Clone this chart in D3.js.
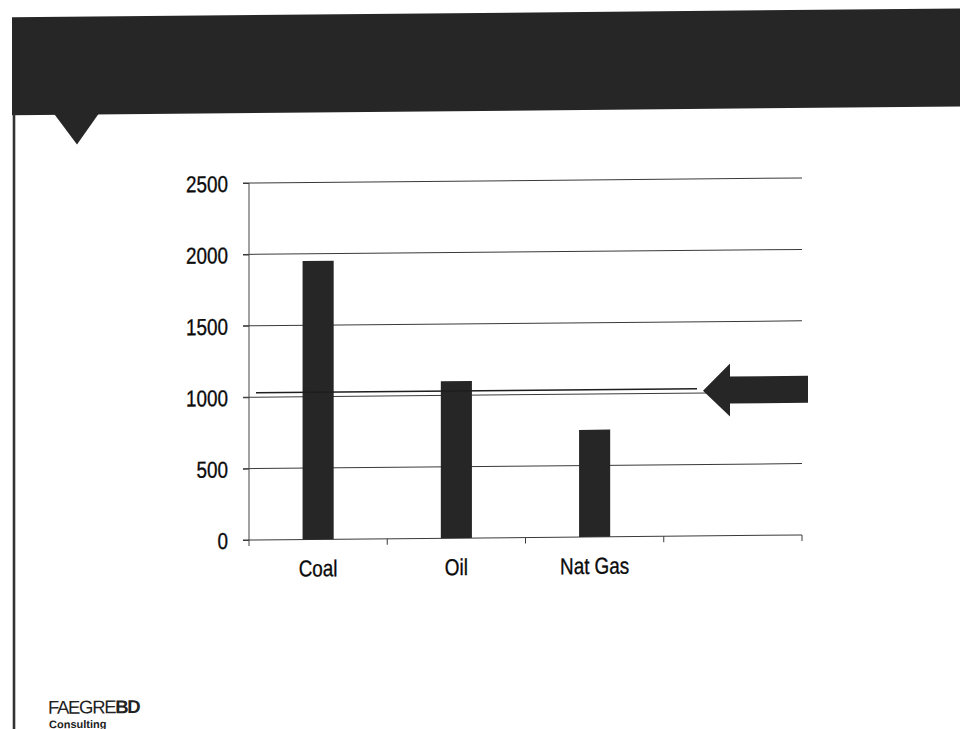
<!DOCTYPE html>
<html>
<head>
<meta charset="utf-8">
<script src="https://cdn.jsdelivr.net/npm/d3@7"></script>
<style>
  html, body { margin: 0; padding: 0; background: #fff; }
  svg { display: block; }
  .lbl { font-family: "Liberation Sans", Arial, sans-serif; font-size: 23px; fill: #0a0a0a; stroke: #0a0a0a; stroke-width: 0.35px; }
</style>
</head>
<body>
<svg id="chart" width="960" height="729"></svg>
<script>
// Chart data
const categories = ["Coal", "Oil", "Nat Gas", ""];
const values = [1950, 1100, 750, null];
const yTicks = [0, 500, 1000, 1500, 2000, 2500];
const refValue = 1030;

const W = 960, H = 729;
const svg = d3.select("#chart");

// Slide is set at a slight slant
const slant = -0.52;
const k = Math.tan(-slant * Math.PI / 180);
const root = svg.append("g")
  .attr("transform", `translate(0,${(k * 249).toFixed(2)}) skewY(${slant})`);

const ink = "#262626";
const narrow = 0.82; // condensed lettering

// Header band with pointer notch
root.append("rect").attr("x", 12).attr("y", 15).attr("width", W + 20).attr("height", 98).attr("fill", ink);
root.append("path").attr("d", "M54,112 L99,112 L77,143 Z").attr("fill", ink);

// Left slide border
root.append("line").attr("x1", 14).attr("x2", 14).attr("y1", 112).attr("y2", H + 10)
  .attr("stroke", "#333").attr("stroke-width", 2.6);

// Scales
const x = d3.scaleBand().domain(categories).range([249, 802]).paddingInner(0).paddingOuter(0);
const y = d3.scaleLinear().domain([0, 2500]).range([540, 183]);

const plot = root.append("g");

// Horizontal gridlines
plot.append("g").selectAll("line").data(yTicks.filter(d => d > 0)).join("line")
  .attr("x1", 243).attr("x2", x.range()[1])
  .attr("y1", d => y(d)).attr("y2", d => y(d))
  .attr("stroke", "#3a3a3a").attr("stroke-width", 1);

// Y axis
const yAxis = plot.append("g").attr("transform", "translate(249,0)")
  .call(d3.axisLeft(y).tickValues(yTicks).tickSize(6).tickPadding(15).tickFormat(d3.format("d")));
yAxis.select(".domain").remove();
yAxis.selectAll(".tick line").attr("stroke", "#3a3a3a");
yAxis.selectAll(".tick text")
  .attr("class", "lbl")
  .attr("x", 0)
  .attr("dy", "0.36em")
  .attr("transform", `translate(-21,0) scale(${narrow},1)`);
plot.append("line").attr("x1", 249).attr("x2", 249).attr("y1", y(2500)).attr("y2", y(0) + 6)
  .attr("stroke", "#444").attr("stroke-width", 1);

// X axis baseline with ticks at category boundaries
plot.append("line").attr("x1", 243).attr("x2", x.range()[1]).attr("y1", y(0)).attr("y2", y(0))
  .attr("stroke", "#3a3a3a").attr("stroke-width", 1);
const edges = categories.map(c => x(c)).concat([x.range()[1]]);
plot.append("g").selectAll("line").data(edges.slice(1)).join("line")
  .attr("x1", d => d).attr("x2", d => d).attr("y1", y(0)).attr("y2", y(0) + 6)
  .attr("stroke", "#3a3a3a").attr("stroke-width", 1);

// Bars
const barW = x.bandwidth() * 0.225;
plot.append("g").selectAll("rect").data(categories.map((c, i) => ({ c, v: values[i] })).filter(d => d.v != null))
  .join("rect")
  .attr("x", d => x(d.c) + x.bandwidth() / 2 - barW / 2)
  .attr("width", barW)
  .attr("y", d => y(d.v))
  .attr("height", d => y(0) - y(d.v))
  .attr("fill", ink);

// Category labels
plot.append("g").selectAll("text").data(categories.filter(c => c)).join("text")
  .attr("class", "lbl")
  .attr("text-anchor", "middle")
  .attr("transform", d => `translate(${x(d) + x.bandwidth() / 2},${y(0) + 37}) scale(${narrow},1)`)
  .text(d => d);

// Reference line and pointer arrow
const refX1 = 256, refX2 = 697;
plot.append("line").attr("x1", refX1).attr("x2", refX2).attr("y1", y(refValue)).attr("y2", y(refValue))
  .attr("stroke", "#1e1e1e").attr("stroke-width", 1.5);
const ay = y(refValue) + 2;
const tip = refX2 + 6;
plot.append("path")
  .attr("d", `M${tip},${ay} L${tip + 27},${ay - 27} L${tip + 27},${ay - 14} L${tip + 105},${ay - 14} L${tip + 105},${ay + 13} L${tip + 27},${ay + 13} L${tip + 27},${ay + 26} Z`)
  .attr("fill", ink);

// Footer logo
const logo = root.append("g");
logo.append("text").attr("x", 48).attr("y", 712)
  .attr("font-family", "'Liberation Sans', Arial, sans-serif").attr("font-size", 18.5)
  .attr("letter-spacing", -1.3).attr("fill", "#222")
  .text("FAEGRE").append("tspan").attr("font-weight", "bold").text("BD");
logo.append("text").attr("x", 49).attr("y", 726.5)
  .attr("font-family", "'Liberation Sans', Arial, sans-serif").attr("font-size", 11)
  .attr("font-weight", "bold").attr("fill", "#222")
  .text("Consulting");
</script>
</body>
</html>
